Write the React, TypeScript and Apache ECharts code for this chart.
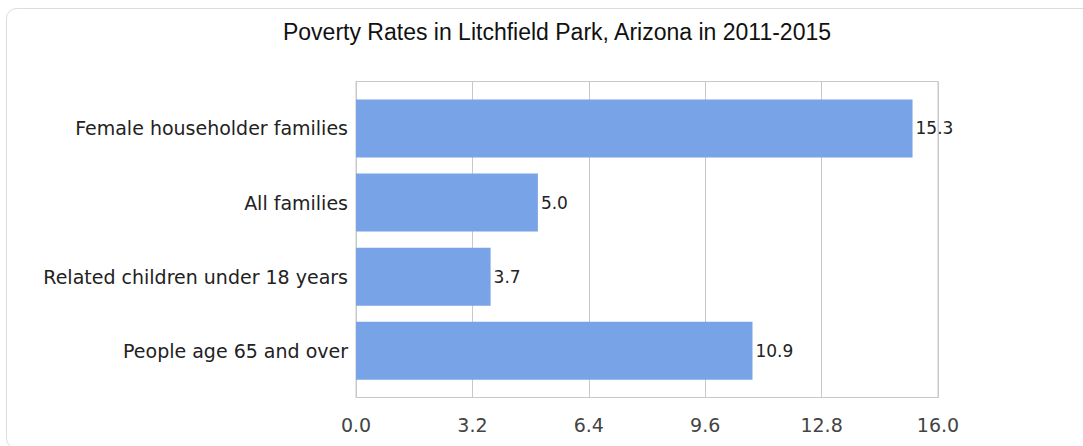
import React, { useEffect, useRef } from "react";
import * as echarts from "echarts";

const titleText = "Poverty Rates in Litchfield Park, Arizona in 2011-2015";
const categories = [
  "Female householder families",
  "All families",
  "Related children under 18 years",
  "People age 65 and over",
];
const values = [15.3, 5.0, 3.7, 10.9];
const xMin = 0;
const xMax = 16;
const xInterval = 3.2;

export default function App() {
  const ref = useRef<HTMLDivElement>(null);
  useEffect(() => {
    if (!ref.current) return;
    const chart = echarts.init(ref.current, null, { renderer: "svg" });
    const gridLeft = 356;
    const gridWidth = 582;
    chart.setOption({
      animation: false,
      backgroundColor: "#ffffff",
      title: {
        text: titleText,
        left: 552,
        top: 15,
        textAlign: "center",
        textStyle: {
          fontFamily: "Liberation Sans, Arial, sans-serif",
          fontSize: 23,
          fontWeight: "normal",
          color: "#111111",
        },
      },
      graphic: [
        {
          type: "rect",
          shape: { x: 6.5, y: 8.5, width: 1100, height: 440, r: 10 },
          style: { fill: "none", stroke: "#dcdcdc", lineWidth: 1 },
          silent: true,
          z: -10,
        },
        {
          type: "rect",
          shape: { x: gridLeft, y: 81.5, width: gridWidth, height: 316 },
          style: { fill: "none", stroke: "#c8c8c8", lineWidth: 1 },
          silent: true,
          z: 0,
        },
      ],
      grid: [
        { left: gridLeft, top: 81.5, width: gridWidth, height: 316, show: false },
        { left: gridLeft, top: 91.3, width: gridWidth, height: 296.6, show: false },
      ],
      xAxis: [
        {
          type: "value",
          gridIndex: 0,
          min: xMin,
          max: xMax,
          interval: xInterval,
          axisLine: { show: true, lineStyle: { color: "#c8c8c8" } },
          axisTick: { show: false },
          splitLine: { show: true, lineStyle: { color: "#c8c8c8", width: 1 } },
          axisLabel: {
            formatter: (v: number) => v.toFixed(1),
            fontFamily: "DejaVu Sans, sans-serif",
            fontSize: 19,
            color: "#444444",
            margin: 18,
          },
        },
        {
          type: "value",
          gridIndex: 1,
          min: xMin,
          max: xMax,
          interval: xInterval,
          show: false,
          splitLine: { show: false },
        },
      ],
      yAxis: [
        {
          type: "category",
          gridIndex: 0,
          data: categories,
          inverse: true,
          axisLine: { show: true, lineStyle: { color: "#c8c8c8" } },
          axisTick: { show: false },
          axisLabel: { show: false },
          splitLine: { show: false },
        },
        {
          type: "category",
          gridIndex: 1,
          data: categories,
          inverse: true,
          axisLine: { show: false },
          axisTick: { show: false },
          axisLabel: {
            fontFamily: "DejaVu Sans, sans-serif",
            fontSize: 19,
            color: "#222222",
            margin: 8,
          },
          splitLine: { show: false },
        },
      ],
      series: [
        {
          type: "bar",
          xAxisIndex: 1,
          yAxisIndex: 1,
          data: values,
          barWidth: 58,
          itemStyle: { color: "#78a3e6" },
          label: {
            show: true,
            position: "right",
            distance: 3,
            formatter: (p: any) => Number(p.value).toFixed(1),
            fontFamily: "DejaVu Sans, sans-serif",
            fontSize: 17,
            color: "#222222",
          },
        },
        {
          type: "bar",
          xAxisIndex: 0,
          yAxisIndex: 0,
          data: [],
        },
      ],
    });
    return () => chart.dispose();
  }, []);
  return (
    <div
      ref={ref}
      style={{ position: "absolute", left: 0, top: 0, width: 1083, height: 446 }}
    />
  );
}
